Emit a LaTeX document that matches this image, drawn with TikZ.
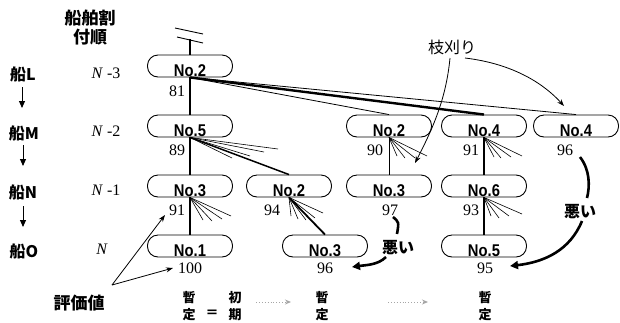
\documentclass[tikz,border=0pt]{standalone}
\usepackage{fontspec}
\setmainfont{Liberation Serif}
\setsansfont{Liberation Sans}
\newfontfamily\jp{Noto Sans CJK JP}
\usetikzlibrary{arrows.meta}
\newcommand\pilltxt[1]{\raisebox{-10pt}[0pt][0pt]{\scalebox{0.87}[1]{#1}}}
\tikzset{
  pill/.style={draw, line width=0.9pt, rounded corners=10.5pt, minimum width=85pt,
    minimum height=22pt, inner sep=0pt, font=\sffamily\bfseries\fontsize{17}{17}\selectfont},
  val/.style={font=\fontsize{16}{16}\selectfont, inner sep=0pt},
  nlab/.style={font=\fontsize{16}{16}\selectfont, inner sep=0pt},
  jpb/.style={font=\jp\bfseries\fontsize{16}{16}\selectfont, inner sep=0pt},
  jpt/.style={font=\jp\bfseries\fontsize{17}{19}\selectfont, inner sep=0pt, align=center},
  jpr/.style={font=\jp\fontsize{16}{16}\selectfont, inner sep=0pt},
  jps/.style={font=\jp\bfseries\fontsize{13}{16.5}\selectfont, inner sep=0pt, align=center},
  fan/.style={line width=0.6pt},
  trunk/.style={line width=2pt},
  thinlink/.style={line width=0.8pt},
  larrow/.style={line width=0.9pt, -{Triangle[width=6pt,length=7pt]}},
  parrow/.style={line width=0.8pt, -{Stealth[width=5pt,length=7pt]}},
  badarrow/.style={line width=2.6pt, -{Triangle[width=8pt,length=8pt]}},
  badline/.style={line width=2.6pt},
  graydot/.style={gray!70, line width=0.9pt, dotted, -{Stealth[width=5pt,length=6pt]}}
}
\begin{document}
\begin{tikzpicture}[x=1pt,y=-1pt]
\useasboundingbox (0,0) rectangle (620,322);

% title
\node[jpt] (title) at (90,28) {船舶割\\付順};

% left ship labels
\node[jpb] (sL) at (23,74) {船L};
\node[jpb] (sM) at (24,133) {船M};
\node[jpb] (sN) at (23,192) {船N};
\node[jpb] (sO) at (24,251) {船O};
\coordinate (aL1) at (22,87);  \coordinate (aL2) at (22,108);
\coordinate (aM1) at (23,145); \coordinate (aM2) at (23,166);
\coordinate (aN1) at (23,206); \coordinate (aN2) at (23,227);
\draw[larrow] (aL1) -- (aL2);
\draw[larrow] (aM1) -- (aM2);
\draw[larrow] (aN1) -- (aN2);

% N labels
\node[nlab] (nL) at (106,73) {\textit{N} -3};
\node[nlab] (nM) at (106,131) {\textit{N} -2};
\node[nlab] (nN) at (106,190) {\textit{N} -1};
\node[nlab] (nO) at (102,249) {\textit{N}};

% pills
\node[pill] (n2a) at (190,66)  {\pilltxt{No.2}};
\node[pill] (n5)  at (190,126) {\pilltxt{No.5}};
\node[pill] (n3a) at (190,186) {\pilltxt{No.3}};
\node[pill] (n1)  at (190,246) {\pilltxt{No.1}};
\node[pill] (n2b) at (289,186) {\pilltxt{No.2}};
\node[pill] (n3b) at (325,246) {\pilltxt{No.3}};
\node[pill] (n2c) at (389,126) {\pilltxt{No.2}};
\node[pill] (n3c) at (389,186) {\pilltxt{No.3}};
\node[pill] (n4a) at (484,126) {\pilltxt{No.4}};
\node[pill] (n6)  at (484,186) {\pilltxt{No.6}};
\node[pill] (n5b) at (484,246) {\pilltxt{No.5}};
\node[pill] (n4b) at (576,126) {\pilltxt{No.4}};

% values
\node[val] (v81)  at (177,91)  {81};
\node[val] (v89)  at (177,150) {89};
\node[val] (v91a) at (177,210) {91};
\node[val] (v100) at (190,268) {100};
\node[val] (v94)  at (272,210) {94};
\node[val] (v96a) at (325,268) {96};
\node[val] (v90)  at (375,150) {90};
\node[val] (v97)  at (390,210) {97};
\node[val] (v91b) at (471,150) {91};
\node[val] (v93)  at (471,210) {93};
\node[val] (v95)  at (485,268) {95};
\node[val] (v96b) at (565,150) {96};

% break mark on top
\coordinate (bk1a) at (175,28); \coordinate (bk1b) at (203,34);
\coordinate (bk2a) at (177,37); \coordinate (bk2b) at (203,43);
\coordinate (top) at (190,39);
\draw[line width=0.9pt] (bk1a) -- (bk1b);
\draw[line width=0.9pt] (bk2a) -- (bk2b);
\draw[trunk] (top) -- (n2a.north);

% main trunks
\draw[trunk] (n2a.south) -- (n5.north);
\draw[trunk] (n5.south) -- (n3a.north);
\draw[trunk] (n3a.south) -- (n1.north);
\draw[thinlink] (n2c.south) -- (n3c.north);
\draw[line width=1.8pt] (n4a.south) -- (n6.north);
\draw[line width=1.8pt] (n6.south) -- (n5b.north);

% links from top No.2
\draw[line width=2.4pt] (n2a.south) -- (n4a.north);
\draw[thinlink] (n2a.south) -- (n4b.north);
\draw[thinlink] (n2a.south) -- (n2c.north);
% other links
\draw[line width=1.5pt] (n5.south) -- (n2b.north);
\draw[line width=1.8pt] (n2b.south) -- (n3b.north);

% fans
\foreach \i/\x/\y in {1/232/158, 2/250/156, 3/264/152, 4/278/149}
  {\coordinate (fa\i) at (\x,\y); \draw[fan] (n5.south) -- (fa\i);}
\foreach \i/\x/\y in {1/203/220, 2/212/221, 3/222/219, 4/231/216}
  {\coordinate (fb\i) at (\x,\y); \draw[fan] (n3a.south) -- (fb\i);}
\foreach \i/\x/\y in {1/291/216, 2/298/219, 3/306/220, 4/315/218, 5/323/213}
  {\coordinate (fc\i) at (\x,\y); \draw[fan] (n2b.south) -- (fc\i);}
\foreach \i/\x/\y in {1/397/156, 2/405/158, 3/415/158, 4/427/156}
  {\coordinate (fd\i) at (\x,\y); \draw[fan] (n2c.south) -- (fd\i);}
\foreach \i/\x/\y in {1/494/157, 2/501/158, 3/511/157, 4/522/156}
  {\coordinate (fe\i) at (\x,\y); \draw[fan] (n4a.south) -- (fe\i);}
\foreach \i/\x/\y in {1/491/216, 2/499/218, 3/509/216, 4/522/214}
  {\coordinate (ff\i) at (\x,\y); \draw[fan] (n6.south) -- (ff\i);}

% pruning label and arrows
\node[jpr] (prune) at (452,47) {枝刈り};
\coordinate (p1s) at (450,58); \coordinate (p1e) at (415,163);
\coordinate (p2s) at (465,58); \coordinate (p2e) at (564,106);
\draw[parrow] (p1s) .. controls (446,100) and (432,130) .. (p1e);
\draw[parrow] (p2s) .. controls (515,64) and (545,85) .. (p2e);

% bad arrows (col 5)
\node[jpb] (bad1) at (580,212) {悪い};
\coordinate (b1a) at (580,157); \coordinate (b1b) at (587,198);
\coordinate (b1c) at (582,221); \coordinate (b1d) at (510,266);
\draw[badline] (b1a) .. controls (590,170) and (590,186) .. (b1b);
\draw[badarrow] (b1c) .. controls (570,250) and (545,262) .. (b1d);

% bad arrows (col 3)
\node[jpb] (bad2) at (398,248) {悪い};
\coordinate (b2a) at (393,217); \coordinate (b2b) at (397,234);
\coordinate (b2c) at (386,257); \coordinate (b2d) at (352,267);
\draw[badline] (b2a) .. controls (399,222) .. (b2b);
\draw[badarrow] (b2c) .. controls (378,265) and (366,265) .. (b2d);

% evaluation value
\node[font=\jp\bfseries\fontsize{17}{17}\selectfont, inner sep=0pt] (eval) at (79,303) {評価値};
\coordinate (e0) at (112,285);
\coordinate (e1) at (165,215);
\coordinate (e2) at (173,268);
\draw[parrow] (e0) -- (e1);
\draw[parrow] (e0) -- (e2);

% bottom: provisional solutions
\node[jps] (z1) at (189,306) {暫\\定};
\node[font=\jp\bfseries\fontsize{13}{13}\selectfont, inner sep=0pt] (eq) at (212,314) {＝};
\node[jps] (z2) at (235,306) {初\\期};
\node[jps] (z3) at (322,306) {暫\\定};
\node[jps] (z4) at (485,306) {暫\\定};
\coordinate (d1a) at (256,302); \coordinate (d1b) at (291,302);
\coordinate (d2a) at (388,302); \coordinate (d2b) at (428,302);
\draw[graydot] (d1a) -- (d1b);
\draw[graydot] (d2a) -- (d2b);
\end{tikzpicture}
\end{document}
